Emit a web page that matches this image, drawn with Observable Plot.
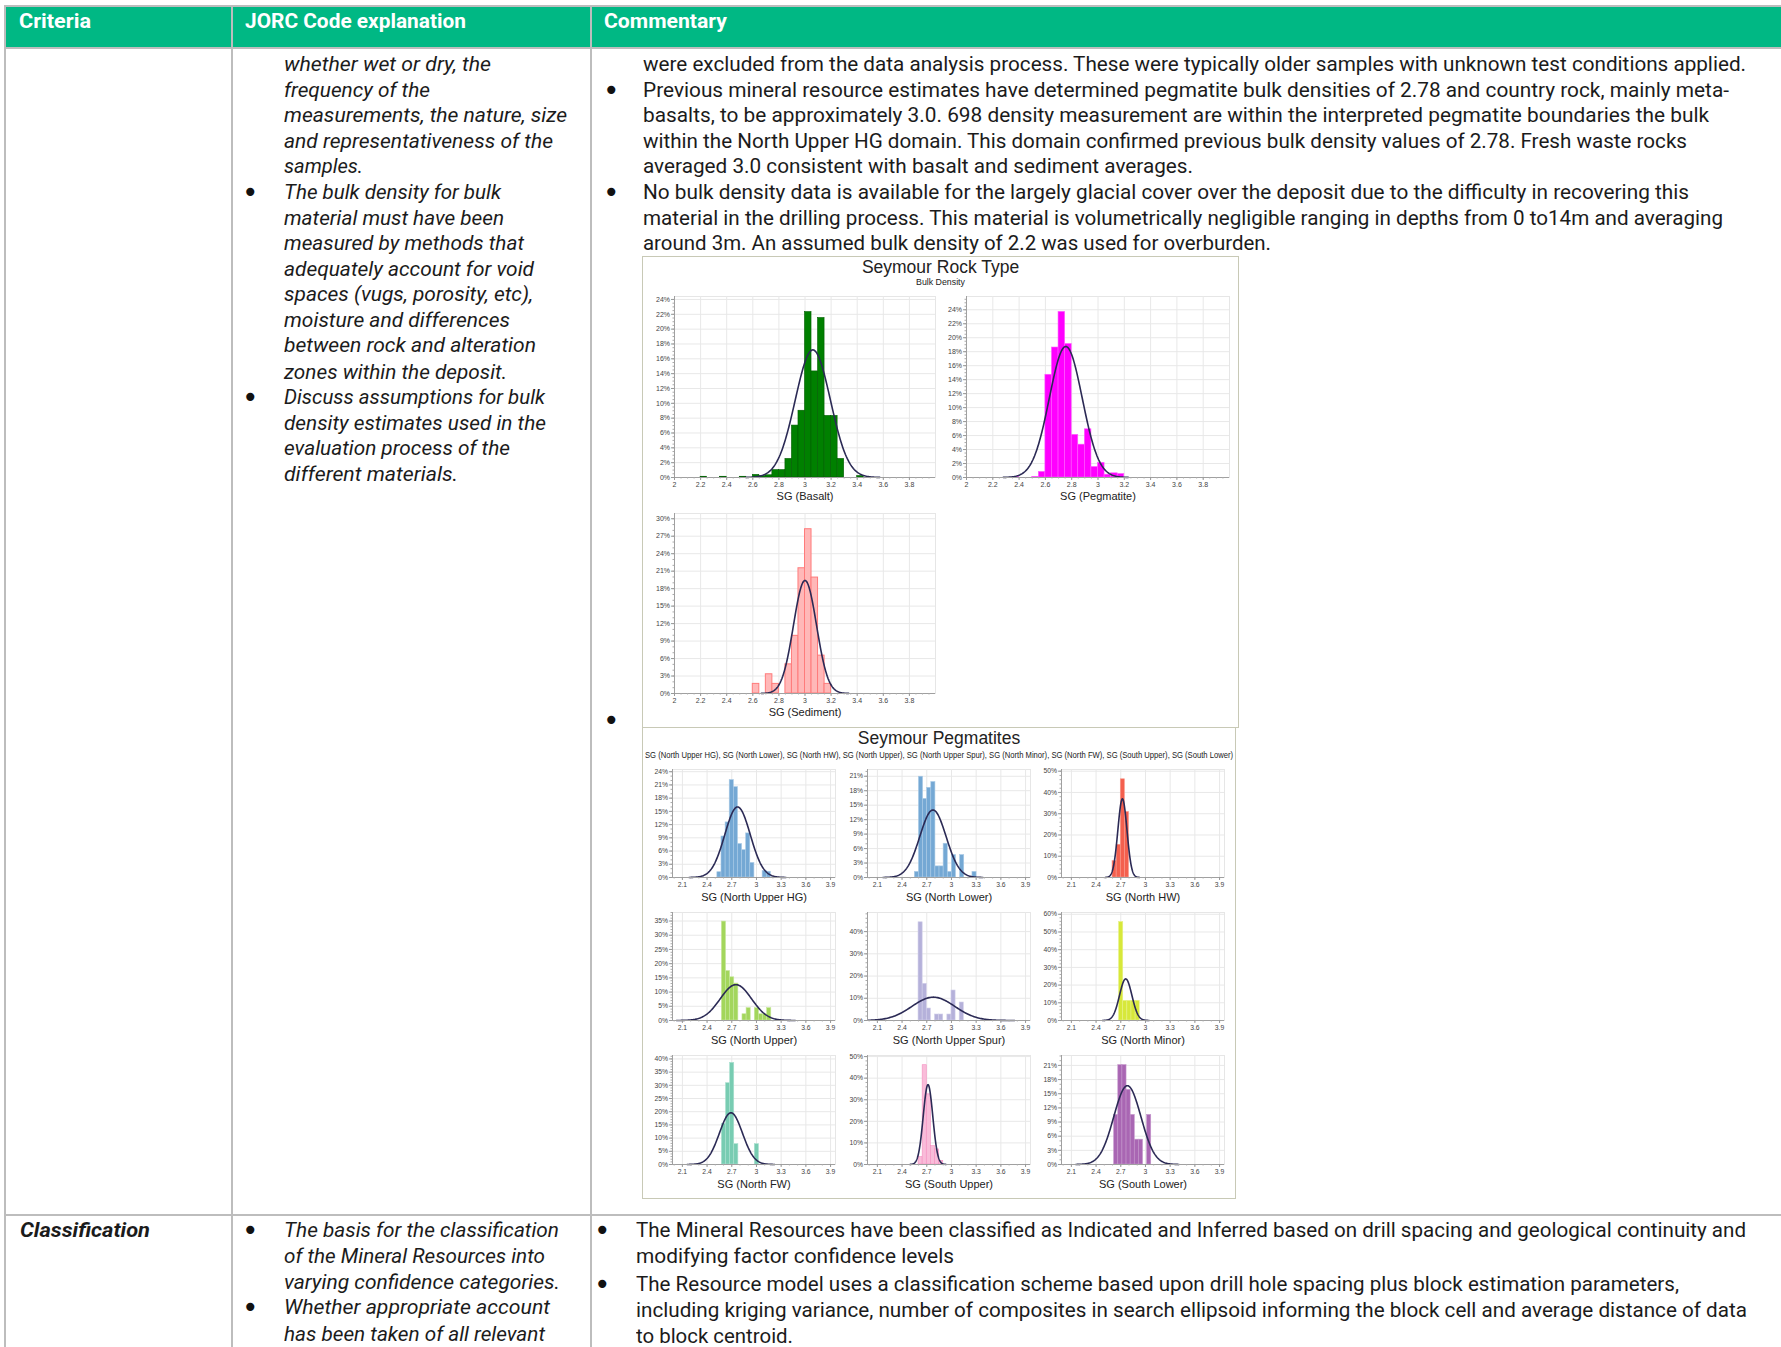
<!DOCTYPE html>
<html><head><meta charset="utf-8">
<script src="https://cdn.jsdelivr.net/npm/d3@7"></script>
<script src="https://cdn.jsdelivr.net/npm/@observablehq/plot@0.6"></script>
<style>
body{margin:0;background:#fff;}
#page{position:relative;width:1781px;height:1347px;overflow:hidden;background:#fff;font-family:Roboto,"Liberation Sans",sans-serif;color:#1b1b1b;}
.ln{position:absolute;white-space:nowrap;transform-origin:0 50%;line-height:26px;height:26px;}
.box{position:absolute;border:1px solid #c8c9b6;background:#fff;box-sizing:border-box;}
.ct{position:absolute;font-family:"Liberation Sans",Arial,sans-serif;color:#222;white-space:nowrap;text-align:center;}
</style></head><body><div id="page"></div>
<script>
// ---------------- DATA ----------------
const rockTicksX = [2, 2.2, 2.4, 2.6, 2.8, 3, 3.2, 3.4, 3.6, 3.8];
const pegTicksX = [2.1, 2.4, 2.7, 3, 3.3, 3.6, 3.9];

// Seymour Rock Type (bin width 0.05), percentages
const basaltBins = [2.2, 2.35, 2.5, 2.6, 2.65, 2.7, 2.75, 2.8, 2.85, 2.9, 2.95, 3.0, 3.05, 3.1, 3.15, 3.2, 3.25, 3.4];
const basaltPct  = [0.1, 0.1, 0.1, 0.35, 0.2, 0.3, 1.0, 1.0, 2.5, 7.0, 9.0, 22.3, 14.3, 21.5, 8.3, 8.3, 2.5, 0.2];
const basaltFit  = [3.06, 0.135, 17.2];   // mean, sd, peak %

const pegmatiteBins = [2.35, 2.5, 2.55, 2.6, 2.65, 2.7, 2.75, 2.8, 2.85, 2.9, 2.95, 3.0, 3.05, 3.1, 3.15];
const pegmatitePct  = [0.1, 0.1, 0.8, 14.7, 18.6, 23.7, 19.1, 6.1, 4.7, 6.9, 1.5, 2.1, 0.4, 0.6, 0.5];
const pegmatiteFit  = [2.755, 0.125, 18.75];

const sedimentBins = [2.6, 2.7, 2.75, 2.85, 2.9, 2.95, 3.0, 3.05, 3.1, 3.15];
const sedimentPct  = [1.65, 3.3, 1.65, 5.0, 9.9, 21.5, 28.2, 19.9, 6.5, 1.65];
const sedimentFit  = [3.0, 0.088, 19.4];

// Seymour Pegmatites (bin width 0.05), percentages
const northUpperHGBins = [2.525, 2.575, 2.625, 2.675, 2.725, 2.775, 2.825, 2.875, 2.925, 3.075, 3.125];
const northUpperHGPct  = [1.2, 9.3, 12.5, 22.1, 20.5, 7.6, 6.2, 10.0, 3.3, 1.5, 1.3];
const northUpperHGFit  = [2.77, 0.155, 16.0];

const northLowerBins = [2.555, 2.605, 2.655, 2.705, 2.755, 2.805, 2.855, 2.905, 2.955, 3.005, 3.105, 3.255];
const northLowerPct  = [1.16, 20.9, 16.3, 18.6, 19.8, 2.3, 2.3, 7.0, 1.16, 4.65, 4.65, 1.16];
const northLowerFit  = [2.775, 0.16, 14.0];

const northHWBins = [2.6, 2.65, 2.7, 2.75];
const northHWPct  = [7.7, 15.4, 46.2, 30.8];
const northHWFit  = [2.72, 0.055, 37.0];

const northUpperBins = [2.58, 2.63, 2.68, 2.73, 2.83, 2.88, 2.98, 3.03, 3.08, 3.13];
const northUpperPct  = [34.8, 17.4, 15.2, 13.0, 2.2, 4.35, 4.35, 2.2, 2.2, 4.35];
const northUpperFit  = [2.75, 0.19, 12.6];

const northUpperSpurBins = [2.6, 2.65, 2.7, 2.8, 2.85, 2.95, 3.0, 3.1];
const northUpperSpurPct  = [44.2, 16.5, 5.4, 2.7, 2.7, 2.7, 13.5, 8.1];
const northUpperSpurFit  = [2.78, 0.26, 10.5];

const northMinorBins = [2.68, 2.73, 2.78, 2.83, 2.88];
const northMinorPct  = [55.6, 11.1, 11.1, 11.1, 11.1];
const northMinorFit  = [2.76, 0.075, 23.5];

const northFWBins = [2.58, 2.63, 2.68, 2.73, 2.98];
const northFWPct  = [15.4, 30.8, 38.5, 7.7, 7.7];
const northFWFit  = [2.69, 0.14, 19.6];

const southUpperBins = [2.6, 2.65, 2.7, 2.75, 2.8, 2.85];
const southUpperPct  = [3.4, 46.0, 32.5, 8.5, 7.0, 1.7];
const southUpperFit  = [2.715, 0.058, 37.0];

const southLowerBins = [2.62, 2.67, 2.72, 2.77, 2.82, 2.87, 2.92, 3.02];
const southLowerPct  = [10.5, 21.05, 21.05, 15.8, 10.5, 5.26, 5.26, 10.5];
const southLowerFit  = [2.78, 0.165, 16.7];

// Text content
const headers = ["Criteria", "JORC Code explanation", "Commentary"];
const jorcLines1 = [
  "whether wet or dry, the", "frequency of the", "measurements, the nature, size",
  "and representativeness of the", "samples.", "The bulk density for bulk",
  "material must have been", "measured by methods that", "adequately account for void",
  "spaces (vugs, porosity, etc),", "moisture and differences", "between rock and alteration",
  "zones within the deposit.", "Discuss assumptions for bulk", "density estimates used in the",
  "evaluation process of the", "different materials."
];
const commentLines1 = [
  "were excluded from the data analysis process. These were typically older samples with unknown test conditions applied.",
  "Previous mineral resource estimates have determined pegmatite bulk densities of 2.78 and country rock, mainly meta-",
  "basalts, to be approximately 3.0. 698 density measurement are within the interpreted pegmatite boundaries the bulk",
  "within the North Upper HG domain. This domain confirmed previous bulk density values of 2.78. Fresh waste rocks",
  "averaged 3.0 consistent with basalt and sediment averages.",
  "No bulk density data is available for the largely glacial cover over the deposit due to the difficulty in recovering this",
  "material in the drilling process. This material is volumetrically negligible ranging in depths from 0 to14m and averaging",
  "around 3m. An assumed bulk density of 2.2 was used for overburden."
];
const criteria2 = "Classification";
const jorcLines2 = [
  "The basis for the classification", "of the Mineral Resources into", "varying confidence categories.",
  "Whether appropriate account", "has been taken of all relevant"
];
const commentLines2 = [
  "The Mineral Resources have been classified as Indicated and Inferred based on drill spacing and geological continuity and",
  "modifying factor confidence levels",
  "The Resource model uses a classification scheme based upon drill hole spacing plus block estimation parameters,",
  "including kriging variance, number of composites in search ellipsoid informing the block cell and average distance of data",
  "to block centroid."
];
const rockTitle = "Seymour Rock Type", rockSubtitle = "Bulk Density";
const pegTitle = "Seymour Pegmatites";
const pegSubtitle = "SG (North Upper HG), SG (North Lower), SG (North HW), SG (North Upper), SG (North Upper Spur), SG (North Minor), SG (North FW), SG (South Upper), SG (South Lower)";

// ---------------- LAYOUT ----------------
const page = document.getElementById("page");
function div(css, text, cls) {
  const d = document.createElement("div");
  if (cls) d.className = cls;
  d.style.cssText = css;
  if (text != null) d.textContent = text;
  page.appendChild(d);
  return d;
}
const fits = [];
function line(x, yc, text, right, opt = {}) {
  const size = opt.size || 19.5;
  const d = div(`left:${x}px;top:${yc - 13}px;font-size:${size}px;${opt.italic ? "font-style:italic;" : ""}${opt.bold ? "font-weight:700;" : ""}${opt.color ? "color:" + opt.color + ";" : ""}`, text, "ln");
  if (right) fits.push([d, right - x]);
  return d;
}
function bullet(x, yc) {
  div(`position:absolute;left:${x - 8}px;top:${yc - 12}px;width:16px;height:24px;font-size:28px;line-height:24px;text-align:center;font-family:"DejaVu Sans";color:#111;`, "•");
}

// table structure
div("position:absolute;left:5px;top:6px;width:1776px;height:42px;background:#00b884;");
const lineCol = "#bdbdbd";
div(`position:absolute;left:4px;top:5px;width:1777px;height:2px;background:${lineCol};`);
div(`position:absolute;left:4px;top:47px;width:1777px;height:2px;background:${lineCol};`);
div(`position:absolute;left:4px;top:1214px;width:1777px;height:2px;background:${lineCol};`);
[4, 231, 590].forEach(x => div(`position:absolute;left:${x}px;top:5px;width:2px;height:1342px;background:${lineCol};`));

// headers
const hx = [19, 245, 604], hr = [91, 466, 727];
headers.forEach((h, i) => line(hx[i], 22, h, hr[i], {bold: true, color: "#fff", size: 19.5}));

// row 1, JORC column
const jY1 = [64.7, 90.9, 115.9, 142, 167, 193.1, 219.2, 244.2, 270.3, 295.3, 321.4, 346.4, 372.5, 397.5, 423.7, 448.6, 474.8];
const jR1 = [491, 430, 567, 553, 363, 501, 504, 524, 534, 533, 510, 536, 507, 545, 546, 510, 458];
jorcLines1.forEach((t, i) => line(284, jY1[i], t, jR1[i], {italic: true}));
[5, 13].forEach(i => bullet(250, jY1[i]));

// row 1, Commentary column
const cY1 = [64.7, 90.9, 115.9, 142.0, 167.0, 193.1, 219.2, 244.2];
const cR1 = [1746, 1729, 1709, 1687, 1193, 1689, 1723, 1271];
commentLines1.forEach((t, i) => line(643, cY1[i], t, cR1[i]));
[1, 5].forEach(i => bullet(611, cY1[i]));
bullet(611, 721);

// row 2
line(20, 1231, criteria2, 150, {italic: true, bold: true});
const jY2 = [1231.2, 1257.3, 1283.4, 1308.4, 1334.6];
const jR2 = [559, 545, 560, 550, 545];
jorcLines2.forEach((t, i) => line(284, jY2[i], t, jR2[i], {italic: true}));
[0, 3].forEach(i => bullet(250, jY2[i]));
const cY2 = [1231, 1257, 1284.6, 1310.7, 1336.8];
const cR2 = [1746, 954, 1679, 1747, 793];
commentLines2.forEach((t, i) => line(636, cY2[i], t, cR2[i]));
[0, 2].forEach(i => bullet(602, cY2[i]));

// chart boxes
div("left:642px;top:256px;width:597px;height:472px;", null, "box");
div("left:642px;top:727px;width:594px;height:472px;", null, "box");
div("left:642px;top:256px;width:597px;font-size:17.5px;line-height:22px;", rockTitle, "ct");
div("left:642px;top:277px;width:597px;font-size:8.8px;line-height:11px;", rockSubtitle, "ct");
div("left:642px;top:727px;width:594px;font-size:17.5px;line-height:22px;", pegTitle, "ct");
// subtitle compressed horizontally to sit inside the chart box
const sub = div('position:absolute;left:645px;top:748px;white-space:nowrap;transform-origin:0 50%;font-family:"Liberation Sans",Arial,sans-serif;font-size:9.5px;line-height:14px;color:#222;', pegSubtitle);
fits.push([sub, 588]);

// ---------------- PANELS ----------------
const fmt = d => String(Math.round(d * 100) / 100);
function panel(c) {
  const ml = 32, mr = 4, mt = 4, mb = 32;
  const yTicks = d3.range(0, c.yMax + 1e-9, c.yStep);
  const yMinor = d3.range(0, c.yMax + 1e-9, c.yStep / c.yMinorN);
  const xMinor = d3.range(c.xDomain[0] + 1e-9, c.xDomain[1], c.xMinorStep).map(v => Math.round(v / c.xMinorStep) * c.xMinorStep).filter(v => v >= c.xDomain[0] && v <= c.xDomain[1]);
  const bars = c.bins.map((x, i) => ({x1: x, x2: x + 0.05, v: c.pct[i]}));
  const [m, s, pk] = c.fit;
  const curve = d3.range(m - 3.8 * s, m + 3.8 * s + 1e-9, s / 20)
    .filter(x => x >= c.xDomain[0] && x <= c.xDomain[1])
    .map(x => ({x, y: pk * Math.exp(-((x - m) ** 2) / (2 * s * s))}));
  const svg = Plot.plot({
    width: c.w + ml + mr, height: c.h + mt + mb,
    marginLeft: ml, marginRight: mr, marginTop: mt, marginBottom: mb,
    x: {domain: c.xDomain}, y: {domain: [0, c.yMax]},
    style: {fontFamily: '"Liberation Sans", Arial, sans-serif', fontSize: "7px", background: "transparent", overflow: "visible", color: "#444"},
    marks: [
      Plot.frame({stroke: "#e6e6e6"}),
      Plot.gridX(c.xTicks, {stroke: "#e8e8e8", strokeOpacity: 1}),
      Plot.gridY(yTicks, {stroke: "#e8e8e8", strokeOpacity: 1}),
      Plot.rectY(bars, {x1: "x1", x2: "x2", y: "v", fill: c.fill, stroke: c.stroke, strokeWidth: c.sw || 0.6}),
      Plot.line(curve, {x: "x", y: "y", stroke: "#2b2a55", strokeWidth: 1.6}),
      Plot.ruleX([c.xDomain[0]], {stroke: "#a0a0a0"}),
      Plot.ruleY([0], {stroke: "#a0a0a0"}),
      Plot.axisX(xMinor, {tickSize: 1.5, tickFormat: () => "", label: null, stroke: "#aaa"}),
      Plot.axisY(yMinor, {tickSize: 1.5, tickFormat: () => "", label: null, stroke: "#aaa"}),
      Plot.axisX(c.xTicks, {tickSize: 3, tickPadding: 1.5, fontSize: c.tf, tickFormat: fmt, label: null, stroke: "#999", fill: "#444"}),
      Plot.axisY(yTicks, {tickSize: 3, tickPadding: 1.5, fontSize: c.tf, tickFormat: d => fmt(d) + "%", label: null, stroke: "#999", fill: "#444"}),
      Plot.text([c.label], {text: d => d, frameAnchor: "bottom", dy: c.ldy, fontSize: 11, fill: "#222"})
    ]
  });
  svg.style.position = "absolute";
  svg.style.left = (c.left - ml) + "px";
  svg.style.top = (c.top - mt) + "px";
  page.appendChild(svg);
}

const rockBase = {xDomain: [2, 4.0], xTicks: rockTicksX, xMinorStep: 0.05, tf: 7, ldy: 22.5, yMinorN: 4};
panel({...rockBase, left: 674, top: 296, w: 261, h: 181, yMax: 24.4, yStep: 2, bins: basaltBins, pct: basaltPct, fit: basaltFit, fill: "#008000", stroke: "#005c00", label: "SG (Basalt)"});
panel({...rockBase, left: 966, top: 296, w: 263, h: 181, yMax: 25.9, yStep: 2, bins: pegmatiteBins, pct: pegmatitePct, fit: pegmatiteFit, fill: "#ff00ff", stroke: "#ff5cff", label: "SG (Pegmatite)"});
panel({...rockBase, left: 674, top: 513, w: 261, h: 180, yMax: 30.9, yStep: 3, yMinorN: 3, bins: sedimentBins, pct: sedimentPct, fit: sedimentFit, fill: "#ffb8b8", stroke: "#ff7b7b", sw: 1, label: "SG (Sediment)"});

const pegBase = {xDomain: [1.98, 3.96], xTicks: pegTicksX, xMinorStep: 0.1, tf: 6.8, ldy: 23.5, w: 163};
const colX = [672, 867, 1061], rowY = [769, 912, 1055], rowH = [108, 108, 109];
const pegPanels = [
  {bins: northUpperHGBins, pct: northUpperHGPct, fit: northUpperHGFit, yMax: 24.5, yStep: 3, yMinorN: 3, fill: "#74a8d4", stroke: "#a9cae6", label: "SG (North Upper HG)"},
  {bins: northLowerBins, pct: northLowerPct, fit: northLowerFit, yMax: 22.4, yStep: 3, yMinorN: 3, fill: "#74a8d4", stroke: "#a9cae6", label: "SG (North Lower)"},
  {bins: northHWBins, pct: northHWPct, fit: northHWFit, yMax: 50.8, yStep: 10, yMinorN: 5, fill: "#f4604e", stroke: "#f89a8e", label: "SG (North HW)"},
  {bins: northUpperBins, pct: northUpperPct, fit: northUpperFit, yMax: 38, yStep: 5, yMinorN: 5, fill: "#a3d65c", stroke: "#c6e69a", label: "SG (North Upper)"},
  {bins: northUpperSpurBins, pct: northUpperSpurPct, fit: northUpperSpurFit, yMax: 48.6, yStep: 10, yMinorN: 5, fill: "#b5b1da", stroke: "#d2cfea", label: "SG (North Upper Spur)"},
  {bins: northMinorBins, pct: northMinorPct, fit: northMinorFit, yMax: 61, yStep: 10, yMinorN: 5, fill: "#d7e83a", stroke: "#e6f185", label: "SG (North Minor)"},
  {bins: northFWBins, pct: northFWPct, fit: northFWFit, yMax: 41.3, yStep: 5, yMinorN: 5, fill: "#78ccb2", stroke: "#a9dfcf", label: "SG (North FW)"},
  {bins: southUpperBins, pct: southUpperPct, fit: southUpperFit, yMax: 50.5, yStep: 10, yMinorN: 5, fill: "#f9bcd9", stroke: "#f58fc0", label: "SG (South Upper)"},
  {bins: southLowerBins, pct: southLowerPct, fit: southLowerFit, yMax: 23.1, yStep: 3, yMinorN: 3, fill: "#a966b3", stroke: "#c495cb", label: "SG (South Lower)"}
];
pegPanels.forEach((p, i) => {
  const r = Math.floor(i / 3), c = i % 3;
  panel({...pegBase, ...p, left: colX[c], top: rowY[r], h: rowH[r]});
});

// fit text lines to the widths in the reference
function fitAll() {
  fits.forEach(([d, w]) => {
    d.style.transform = "none";
    const nat = d.getBoundingClientRect().width;
    if (nat > 0) d.style.transform = `scaleX(${w / nat})`;
  });
}
fitAll();
if (document.fonts && document.fonts.ready) document.fonts.ready.then(fitAll);
</script></body></html>
